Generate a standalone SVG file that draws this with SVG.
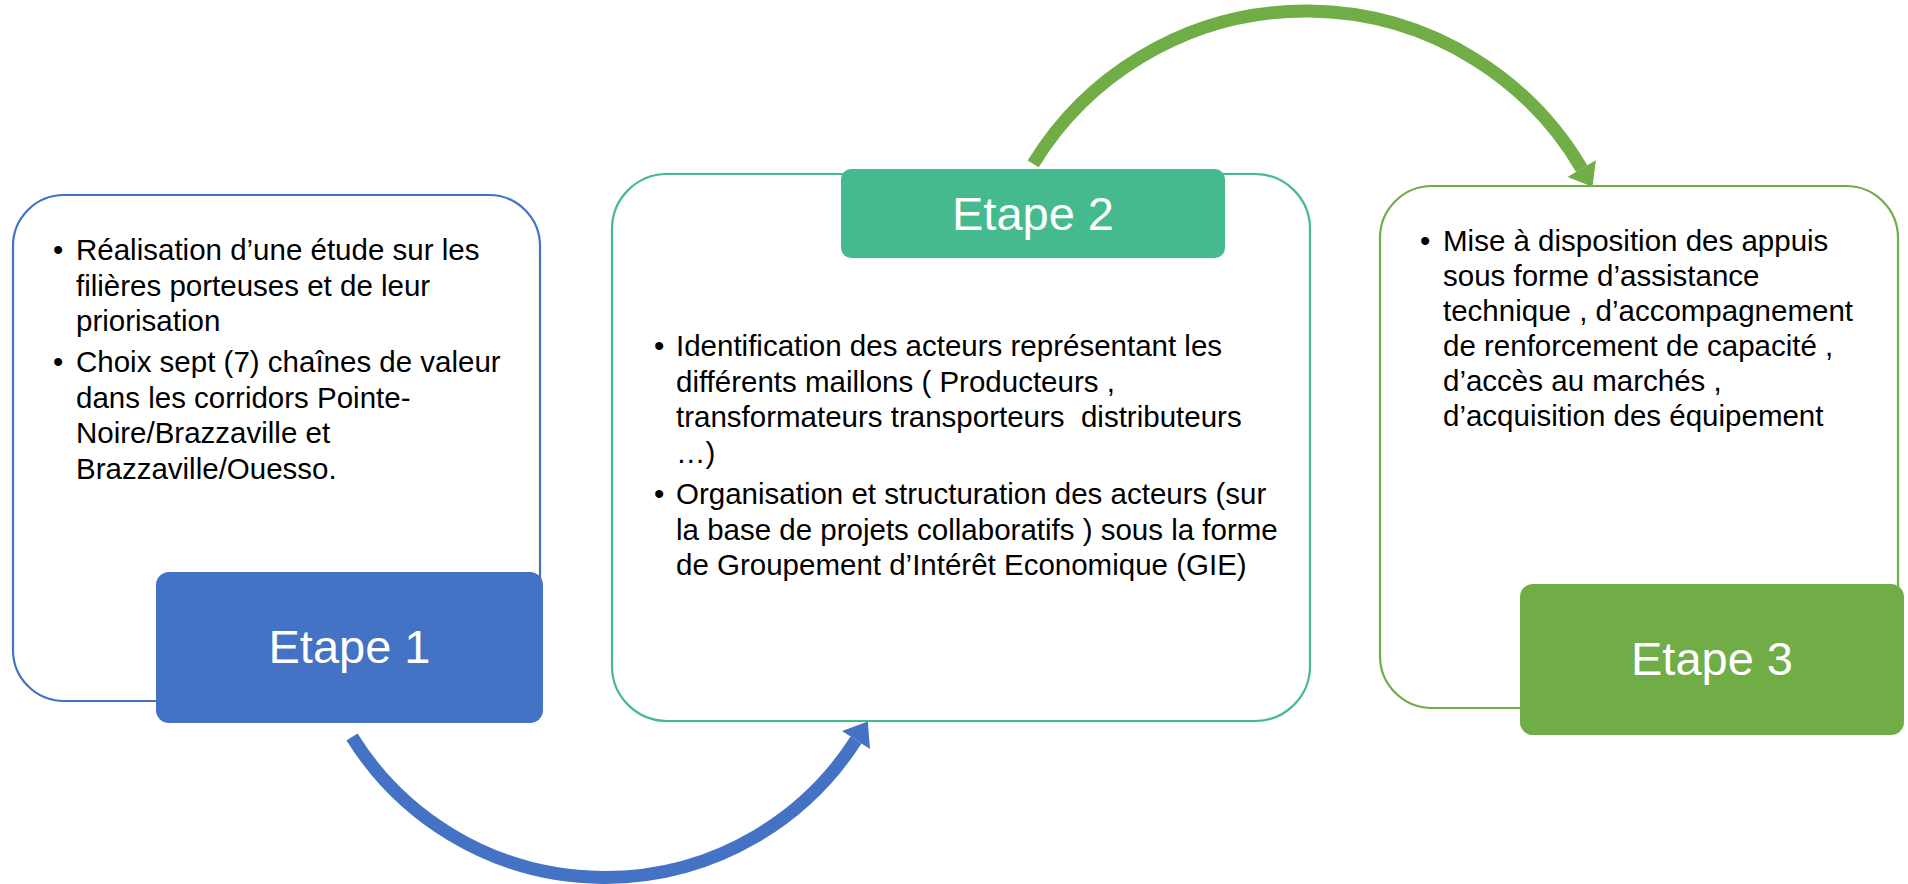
<svg xmlns="http://www.w3.org/2000/svg" width="1908" height="884" viewBox="0 0 1908 884">
<style>
.body{font-family:"Liberation Sans",Arial,sans-serif;font-size:29.5px;fill:#000;white-space:pre}
.step{font-family:"Liberation Sans",Arial,sans-serif;font-size:47px;fill:#fff;text-anchor:middle}
.frame{fill:#fff;stroke-width:2.2}
.arc{fill:none;stroke-width:13;stroke-linecap:butt}
</style>
<rect width="1908" height="884" fill="#fff"/>
<g id="etape1">
<rect class="frame" x="13" y="195" width="527" height="506" rx="51" stroke="#4472C4"/>
<text class="body" x="53" y="260">•</text>
<text class="body" x="76" y="260">Réalisation d’une étude sur les</text>
<text class="body" x="76" y="295.5">filières porteuses et de leur</text>
<text class="body" x="76" y="331">priorisation</text>
<text class="body" x="53" y="372">•</text>
<text class="body" x="76" y="372">Choix sept (7) chaînes de valeur</text>
<text class="body" x="76" y="407.5">dans les corridors Pointe-</text>
<text class="body" x="76" y="443">Noire/Brazzaville et</text>
<text class="body" x="76" y="478.5">Brazzaville/Ouesso.</text>
<rect x="156" y="572" width="387" height="151" rx="13" fill="#4472C4"/>
<text class="step" x="349.5" y="663">Etape 1</text>
</g>
<g id="etape2">
<rect class="frame" x="612" y="174" width="698" height="547" rx="55" stroke="#44BA8E"/>
<text class="body" x="654" y="356">•</text>
<text class="body" x="676" y="356">Identification des acteurs représentant les</text>
<text class="body" x="676" y="391.5">différents maillons ( Producteurs ,</text>
<text class="body" x="676" y="427">transformateurs transporteurs  distributeurs</text>
<text class="body" x="676" y="462.5">…)</text>
<text class="body" x="654" y="504">•</text>
<text class="body" x="676" y="504">Organisation et structuration des acteurs (sur</text>
<text class="body" x="676" y="539.5">la base de projets collaboratifs ) sous la forme</text>
<text class="body" x="676" y="575">de Groupement d’Intérêt Economique (GIE)</text>
<rect x="841" y="169" width="384" height="89" rx="10" fill="#44BA8E"/>
<text class="step" x="1033" y="230">Etape 2</text>
</g>
<g id="etape3">
<rect class="frame" x="1380" y="186" width="518" height="522" rx="52" stroke="#70AD47"/>
<text class="body" x="1420" y="251">•</text>
<text class="body" x="1443" y="251">Mise à disposition des appuis</text>
<text class="body" x="1443" y="286">sous forme d’assistance</text>
<text class="body" x="1443" y="321">technique , d’accompagnement</text>
<text class="body" x="1443" y="356">de renforcement de capacité ,</text>
<text class="body" x="1443" y="391">d’accès au marchés ,</text>
<text class="body" x="1443" y="426">d’acquisition des équipement</text>
<rect x="1520" y="584" width="384" height="151" rx="13" fill="#70AD47"/>
<text class="step" x="1712" y="675">Etape 3</text>
</g>
<g id="connectors">
<path class="arc" d="M 352 737 A 298 298 0 0 0 856 740" stroke="#4472C4"/>
<polygon points="867.8,721.4 870,748.9 842,731.1" fill="#4472C4"/>
<path class="arc" d="M 1033.2 163.8 A 320 320 0 0 1 1581.7 168.6" stroke="#70AD47"/>
<polygon points="1592.4,186.7 1595.9,160.2 1567.5,177" fill="#70AD47"/>
</g>
</svg>
